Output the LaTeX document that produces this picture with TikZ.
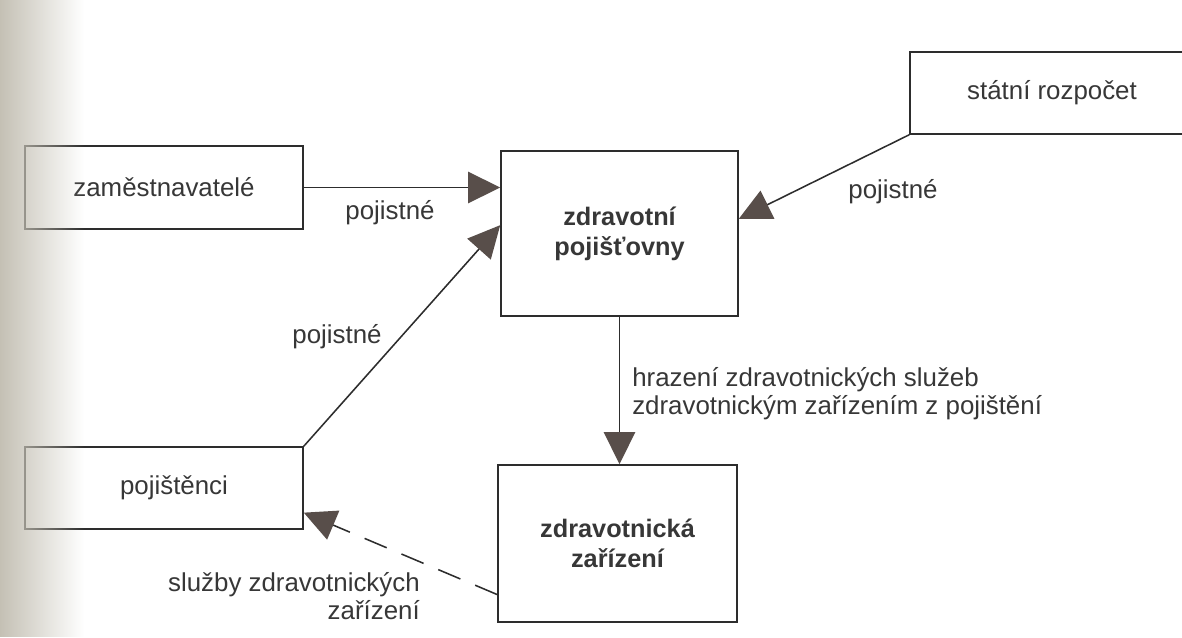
\documentclass[tikz,border=0pt]{standalone}
\usepackage{fontspec}
\setmainfont{Liberation Sans}
\usetikzlibrary{arrows.meta,fadings}

\definecolor{inkline}{RGB}{45,45,45}
\definecolor{inkhead}{RGB}{88,78,74}
\definecolor{inktext}{RGB}{55,55,55}
\definecolor{scanedge}{RGB}{196,192,180}

\begin{document}
\begin{tikzpicture}[
  box/.style={draw=inkline, line width=1.1pt, inner sep=0pt, text=inktext,
    align=center, font=\fontsize{18.4}{20}\selectfont},
  boldbox/.style={box, font=\fontsize{18}{21.5}\selectfont\bfseries},
  flow/.style={draw=inkline, line width=1.1pt,
    -{Triangle[length=0.8cm,width=0.78cm,fill=inkhead,color=inkhead]}},
  lbl/.style={text=inktext, inner sep=0pt, font=\fontsize{18.4}{20}\selectfont}
]
  \useasboundingbox (0cm,0cm) rectangle (29.55cm,-15.925cm);

  % boxes
  \node[box, minimum width=6.95cm, minimum height=2.075cm] (zam) at (4.1cm,-4.6875cm) {zaměstnavatelé};
  \node[box, minimum width=6.95cm, minimum height=2.05cm] (poj) at (4.1cm,-12.2cm) {\hspace*{0.5cm}pojištěnci};
  \node[boldbox, minimum width=5.925cm, minimum height=4.125cm] (zp) at (15.4875cm,-5.8375cm) {zdravotní\\pojišťovny};
  \node[boldbox, minimum width=5.975cm, minimum height=3.925cm] (zz) at (15.4375cm,-13.5875cm) {zdravotnická\\zařízení};
  \node[box, minimum width=7.1cm, minimum height=2.05cm] (rozp) at (26.3cm,-2.325cm) {státní rozpočet};

  % flows
  \draw[flow] (rozp.south west) -- (zp.7);
  \draw[flow] (zam.east) -- (zam.east -| zp.west);
  \draw[flow] (poj.north east) -- (zp.176);
  \draw[flow] (zp.south) -- (zp.south |- zz.north);
  \draw[flow, dash pattern=on 0.6cm off 0.4cm] (zz.203) -- (poj.350);

  % labels
  \node[lbl] (pj1) at (22.325cm,-4.8cm) {pojistné};
  \node[lbl] (pj2) at (9.75cm,-5.325cm) {pojistné};
  \node[lbl] (pj3) at (8.425cm,-8.425cm) {pojistné};
  \node[lbl, anchor=west, align=left] (hraz) at (15.8cm,-9.85cm) {hrazení zdravotnických služeb\\zdravotnickým zařízením z pojištění};
  \node[lbl, anchor=east, align=right] (sluz) at (10.5cm,-14.9cm) {služby zdravotnických\\zařízení};

  % scan edge
  \fill[scanedge, path fading=east] (0cm,0cm) rectangle (2.1cm,-15.925cm);
\end{tikzpicture}
\end{document}
